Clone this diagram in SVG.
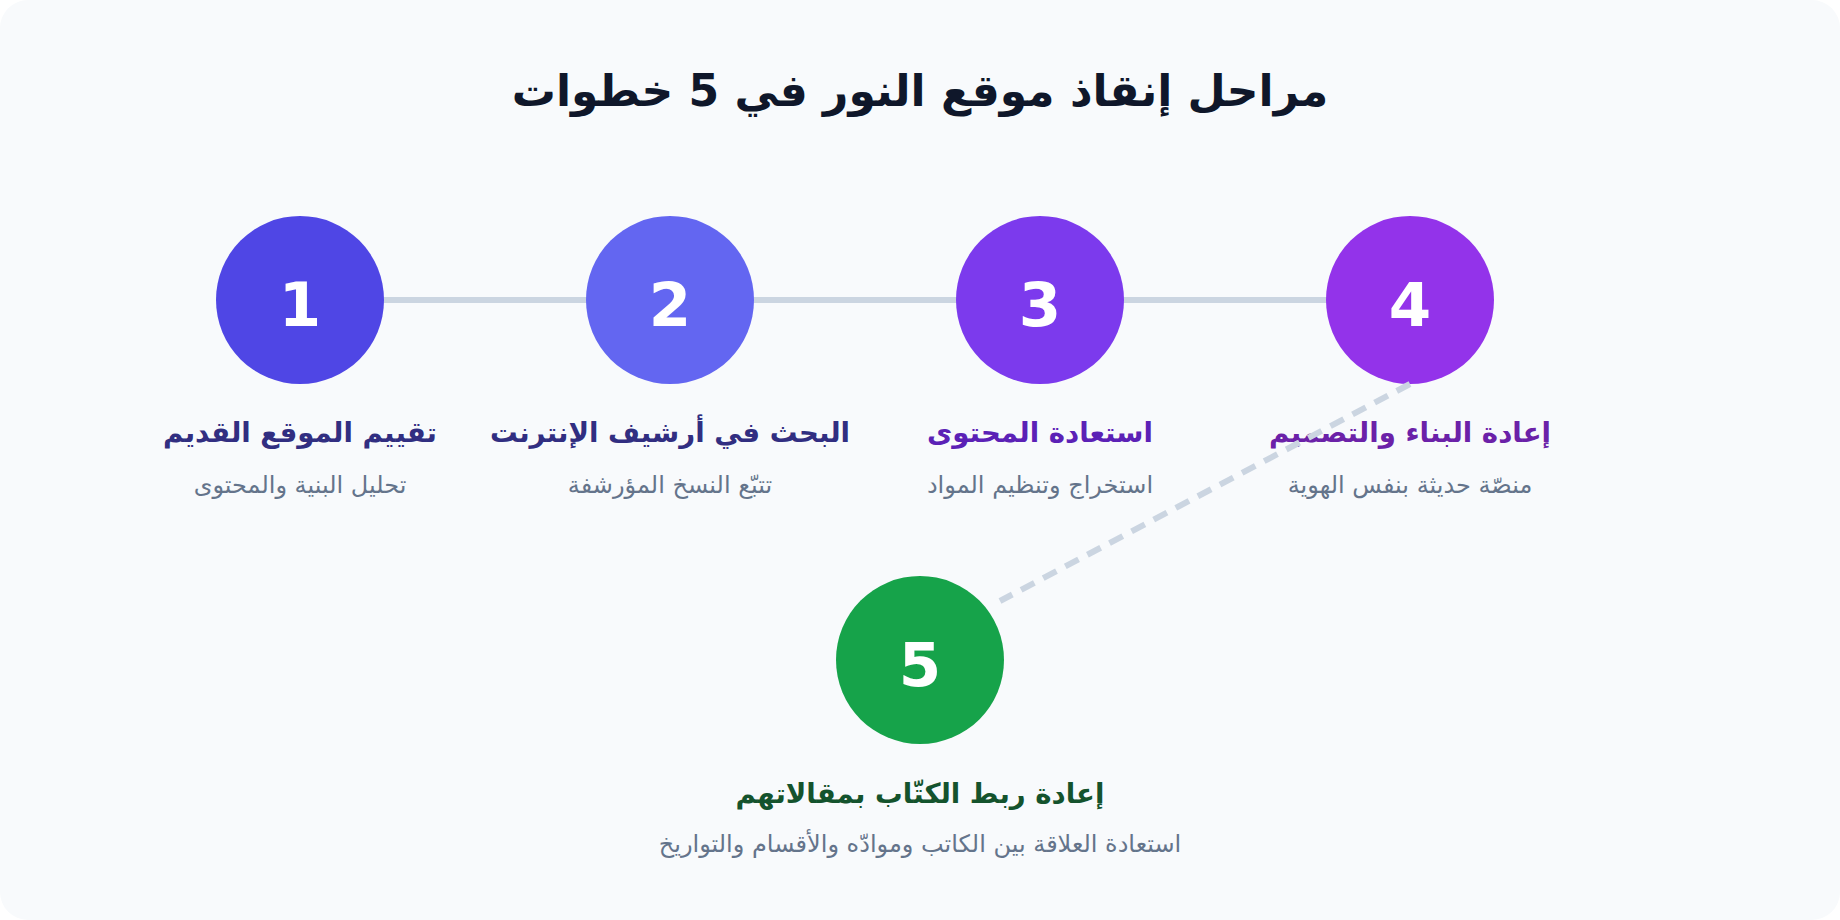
<svg xmlns="http://www.w3.org/2000/svg" width="1840" height="920" viewBox="0 0 1840 920">
<style>
text{font-family:"DejaVu Sans","Noto Sans",sans-serif;text-anchor:middle;direction:rtl}
.title{font-size:44px;font-weight:bold;fill:#0f172a}
.num{font-size:61px;font-weight:bold;fill:#ffffff;direction:ltr}
.lbl{font-size:27.6px;font-weight:bold}
.sub{font-size:24px;fill:#64748b}
.track{stroke:#cbd5e1;stroke-width:6;fill:none}
.dash{stroke:#cbd5e1;stroke-width:6;fill:none;stroke-dasharray:15 10}
</style>
<rect x="0" y="0" width="1840" height="920" fill="#ffffff"/>
<rect x="0" y="0" width="1840" height="920" rx="28" fill="#f8fafc"/>
<text class="title" x="920" y="106">مراحل إنقاذ موقع النور في 5 خطوات</text>
<g id="track">
<line class="track" x1="300" y1="300" x2="1410" y2="300"/>
</g>
<g id="step1">
<circle cx="300" cy="300" r="84" fill="#4f46e5"/>
<text class="num" x="300" y="326">1</text>
<text class="lbl" x="300" y="442" fill="#312e81">تقييم الموقع القديم</text>
<text class="sub" x="300" y="493">تحليل البنية والمحتوى</text>
</g>
<g id="step2">
<circle cx="670" cy="300" r="84" fill="#6366f1"/>
<text class="num" x="670" y="326">2</text>
<text class="lbl" x="670" y="442" fill="#312e81">البحث في أرشيف الإنترنت</text>
<text class="sub" x="670" y="493">تتبّع النسخ المؤرشفة</text>
</g>
<g id="step3">
<circle cx="1040" cy="300" r="84" fill="#7c3aed"/>
<text class="num" x="1040" y="326">3</text>
<text class="lbl" x="1040" y="442" fill="#5b21b6">استعادة المحتوى</text>
<text class="sub" x="1040" y="493">استخراج وتنظيم المواد</text>
</g>
<g id="step4">
<circle cx="1410" cy="300" r="84" fill="#9333ea"/>
<text class="num" x="1410" y="326">4</text>
<text class="lbl" x="1410" y="442" fill="#6b21a8">إعادة البناء والتصميم</text>
<text class="sub" x="1410" y="493">منصّة حديثة بنفس الهوية</text>
</g>
<g id="step5">
<circle cx="920" cy="660" r="84" fill="#16a34a"/>
<text class="num" x="920" y="686">5</text>
<text class="lbl" x="920" y="803" fill="#14532d">إعادة ربط الكتّاب بمقالاتهم</text>
<text class="sub" x="920" y="852">استعادة العلاقة بين الكاتب وموادّه والأقسام والتواريخ</text>
</g>
<g id="connectors">
<line class="dash" x1="1410" y1="384" x2="1000" y2="601"/>
</g>
</svg>
